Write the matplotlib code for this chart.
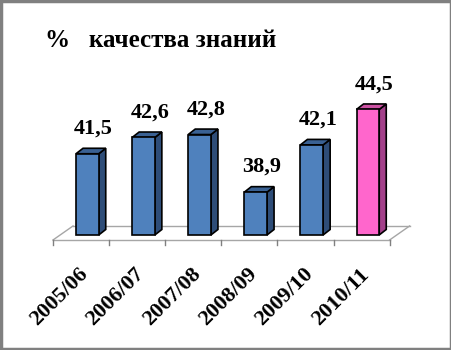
import matplotlib.pyplot as plt
from matplotlib.patches import Polygon, Rectangle

years = ['2005/06', '2006/07', '2007/08', '2008/09', '2009/10', '2010/11']
quality = [41.5, 42.6, 42.8, 38.9, 42.1, 44.5]
value_labels = ['41,5', '42,6', '42,8', '38,9', '42,1', '44,5']

base = 36.0
front_col = ['#4F81BD'] * 5 + ['#FF66CC']
side_col = ['#2E4D78'] * 5 + ['#A3408A']
top_col = ['#3A6193'] * 5 + ['#CC52A3']

serif = 'Liberation Serif'

fig = plt.figure(figsize=(4.52, 3.5), dpi=100)
ax = fig.add_axes([0, 0, 1, 1])
ax.set_xlim(-0.945, 7.112)
ax.set_ylim(28.21, 51.91)
ax.axis('off')

# 3d offsets (bar depth and floor depth) in data units
bdx, bdy = 0.125, 0.37
fdx, fdy = 0.357, 0.95
floor_y = base - 0.34

# floor
ax.plot([0, 6], [floor_y, floor_y], color='#A6A6A6', lw=1, zorder=1)
ax.plot([fdx, 6 + fdx], [floor_y + fdy, floor_y + fdy], color='#A6A6A6', lw=1, zorder=1)
ax.plot([0, fdx], [floor_y, floor_y + fdy], color='#A6A6A6', lw=1, zorder=1)
ax.plot([6, 6 + fdx], [floor_y, floor_y + fdy], color='#A6A6A6', lw=1, zorder=1)
for i in range(7):
    ax.plot([i, i], [floor_y, floor_y - 0.34], color='#808080', lw=1, zorder=1)

# bars
lefts = [i + 0.41 for i in range(len(quality))]
width = 0.405
ax.bar(lefts, [q - base for q in quality], width=width, bottom=base, align='edge',
       color=front_col, edgecolor='black', linewidth=1.2, zorder=3)
for l, q, sc, tc in zip(lefts, quality, side_col, top_col):
    r = l + width
    ax.add_patch(Polygon([(r, base), (r + bdx, base + bdy), (r + bdx, q + bdy), (r, q)],
                         closed=True, fc=sc, ec='black', lw=1.2, zorder=2))
    ax.add_patch(Polygon([(l, q), (r, q), (r + bdx, q + bdy), (l + bdx, q + bdy)],
                         closed=True, fc=tc, ec='black', lw=1.2, zorder=2))

# value labels
for l, q, txt in zip(lefts, quality, value_labels):
    ax.annotate(txt, (l + width / 2 + bdx / 2, q + bdy), xytext=(2, 7),
                textcoords='offset points', ha='center', va='bottom',
                fontsize=16, fontweight='bold', family=serif)

# category labels
for i, yr in enumerate(years):
    ax.text(i + 0.45, floor_y - 1.65, yr, rotation=45, rotation_mode='anchor',
            ha='right', va='top', fontsize=16, fontweight='bold', family=serif)

fig.text(45 / 452, 1 - 47 / 350, '%   качества знаний', fontsize=18,
         fontweight='bold', family=serif, ha='left', va='baseline')

fig.add_artist(Rectangle((0.002, 0.003), 0.995, 0.994, transform=fig.transFigure,
                         fill=False, ec='#808080', lw=2.5))

fig.savefig('out.png', dpi=100)
